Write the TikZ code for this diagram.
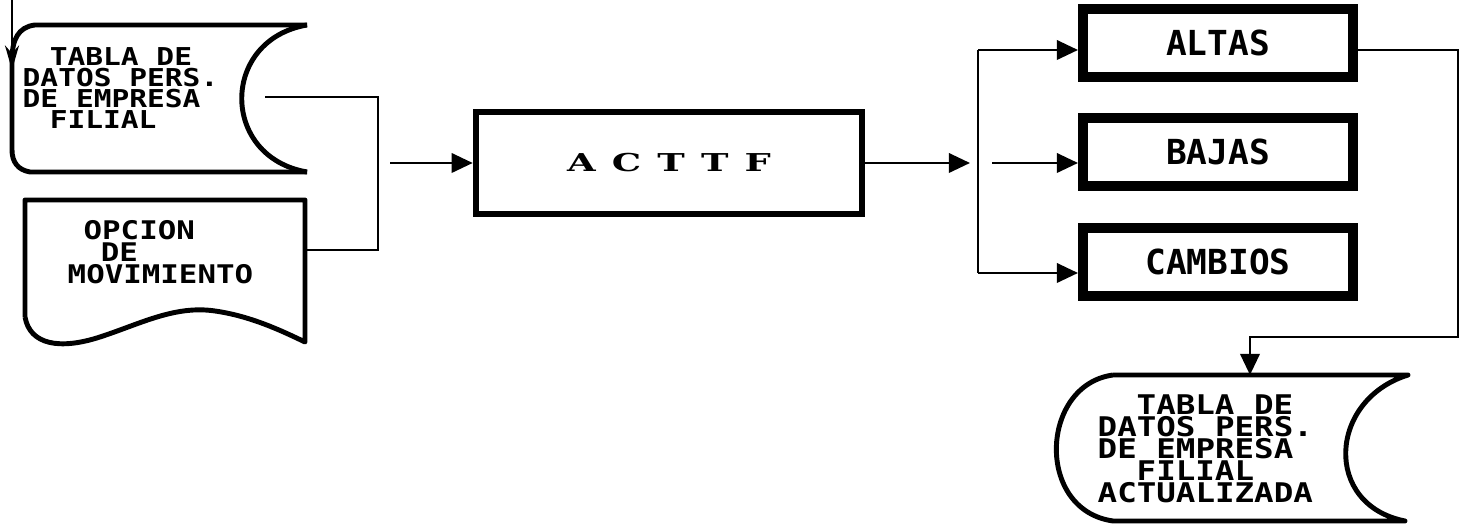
\documentclass[tikz,border=0pt]{standalone}
\usepackage{fontspec}
\usepackage{tikz}
\usetikzlibrary{arrows.meta,positioning}
\newfontfamily\pixfont{DejaVu Sans Mono}[FakeStretch=1.2]
\newfontfamily\labfont{DejaVu Sans Mono}
\newfontfamily\titfont{DejaVu Serif Bold}[FakeStretch=1.5]
\newcommand\gap{\hspace{4.6pt}}
\tikzset{line/.style={line width=0.75pt}}
\tikzset{flow/.style={line width=0.75pt,-{Triangle[length=6pt,width=5.5pt]}}}
\tikzset{store/.style={line width=1.4pt,line join=round}}
\tikzset{pixtext/.style={align=left,inner sep=0pt,anchor=west}}
\tikzset{opbox/.style={draw,line width=2.8pt,minimum width=2.7cm,minimum height=0.68cm,
  inner sep=0pt,font=\labfont\bfseries\fontsize{9.8}{10}\selectfont}}

\begin{document}
\begin{tikzpicture}[x=0.01cm,y=-0.01cm]
  \useasboundingbox (0,0) rectangle (1465,525);
% input table and option
  \draw[store] (307,25) -- (35,25) .. controls (18,27) and (12,40) .. (12,60)
    -- (12,150) .. controls (12,162) and (18,170) .. (30,172) -- (307,172);
  \draw[store] (307,25) .. controls (220,40) and (220,157) .. (307,172);
  \node[pixtext,font=\pixfont\bfseries\fontsize{7}{6}\selectfont] (tabla) at (22,88)
    {\hspace*{1.1em}TABLA DE\\DATOS PERS.\\DE EMPRESA\\\hspace*{1.1em}FILIAL};
  \draw[store] (25,317) -- (25,200) -- (305,200) -- (305,342)
    .. controls (280,330) and (250,316) .. (215,311)
    .. controls (175,305) and (140,324) .. (100,337)
    .. controls (60,350) and (30,345) .. (25,317);
  \node[pixtext,font=\pixfont\bfseries\fontsize{7.3}{6.3}\selectfont] (opcion) at (67,252)
    {\hspace*{.62em}OPCION\\\hspace*{1.29em}DE\\MOVIMIENTO};
% process
  \node[draw,line width=1.8pt,minimum width=3.86cm,minimum height=1.02cm,
    font=\titfont\fontsize{7}{8}\selectfont] (acttf) at (669,163)
    {A\gap C\gap T\gap T\gap F\hspace{8pt}};
  \node[opbox] (altas) at (1218,43) {ALTAS};
  \node[opbox,below=0.31cm of altas] (bajas) {BAJAS};
  \node[opbox,below=0.32cm of bajas] (cambios) {CAMBIOS};
% updated table
  \draw[store] (1113,375) -- (1408,375) .. controls (1328,400) and (1323,505) .. (1405,521)
    -- (1113,521) .. controls (1035,510) and (1040,385) .. (1113,375);
  \node[pixtext,font=\pixfont\bfseries\fontsize{7.7}{6.3}\selectfont] (tablaact) at (1097,449)
    {\hspace*{1.44em}TABLA DE\\DATOS PERS.\\DE EMPRESA\\\hspace*{1.44em}FILIAL\\ACTUALIZADA};
% connectors
  \coordinate (inTop) at (12,0);
  \coordinate (inEnd) at (12,70);
  \coordinate (tablaOut) at (265,97);
  \coordinate (join) at (378,163);
  \coordinate (opcionIn) at (305,250);
  \coordinate (joinOut) at (390,163);
  \coordinate (forkIn) at (970,163);
  \coordinate (forkA) at (978,50);
  \coordinate (forkB) at (992,163);
  \coordinate (forkC) at (978,273);
  \coordinate (actTop) at (1250,375);
  \draw[line,-{Stealth[length=7pt,width=4pt]}] (inTop) -- (inEnd);
  \draw[line] (tablaOut) -| (join) |- (opcionIn);
  \draw[flow] (joinOut) -- (acttf.west);
  \draw[flow] (acttf.east) -- (forkIn);
  \draw[line] (forkA) -- (forkC);
  \draw[flow] (forkA) -- (altas.west |- forkA);
  \draw[flow] (forkB) -- (bajas.west |- forkB);
  \draw[flow] (forkC) -- (cambios.west |- forkC);
  \draw[flow] (altas.east |- forkA) -| (1458,337) -| (actTop);
\end{tikzpicture}
\end{document}
